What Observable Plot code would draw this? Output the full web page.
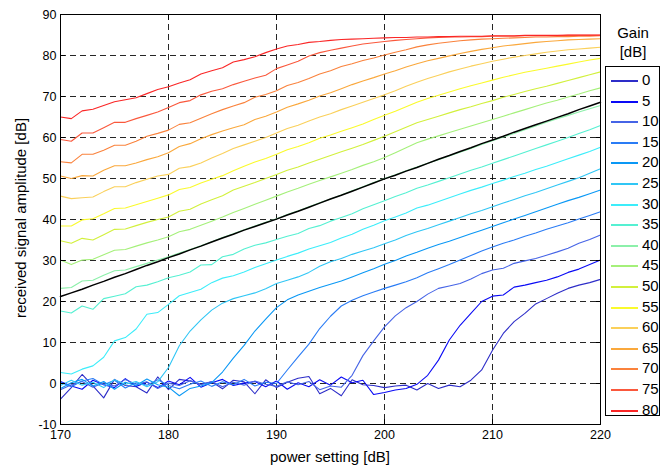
<!DOCTYPE html>
<html><head><meta charset="utf-8">
<script src="https://cdn.jsdelivr.net/npm/d3@7"></script>
<script src="https://cdn.jsdelivr.net/npm/@observablehq/plot@0.6"></script>
<style>
body{margin:0;background:#fff;font-family:"Liberation Sans",Arial,sans-serif;color:#000;}
#wrap{position:relative;width:662px;height:468px;overflow:hidden;}
#wrap > svg{position:absolute;left:0;top:0;}
.lab{position:absolute;font-size:15px;white-space:nowrap;}
#ltitle{position:absolute;left:605px;top:23px;width:56px;text-align:center;font-size:15px;line-height:19px;}
#lbox{position:absolute;left:605px;top:66px;width:55px;height:350px;border:1px solid #000;background:#fff;box-sizing:border-box;z-index:2;}
.ent{position:absolute;left:0;height:20px;width:53px;}
.ent .sw{position:absolute;left:5px;top:10px;width:27px;height:2px;}
.ent .tx{position:absolute;left:36px;top:1px;font-size:15px;line-height:18px;}
</style></head><body>
<div id="wrap">
  <div class="lab" style="left:20px;top:218px;transform:translate(-50%,-50%) rotate(-90deg);">received signal amplitude [dB]</div>
  <div class="lab" style="left:330px;top:456px;transform:translate(-50%,-50%);">power setting [dB]</div>
  <div id="ltitle">Gain<br>[dB]</div>
  <div id="lbox"></div>
</div>
<script>
const power = [170,171,172,173,174,175,176,177,178,179,
  180,181,182,183,184,185,186,187,188,189,
  190,191,192,193,194,195,196,197,198,199,
  200,201,202,203,204,205,206,207,208,209,
  210,211,212,213,214,215,216,217,218,219,220];
const gains = [0,5,10,15,20,25,30,35,40,45,50,55,60,65,70,75,80];
const gainColors = ["#2d2dc8","#0a0af5","#4664e6","#2a7cf5","#0a98f5","#30c6f5","#3cedfa","#55f0d2","#8cf0aa","#a5f07a","#d2f03c","#fafa2c","#fad05a","#faa83c","#fa823c","#fa583c","#fa2626"];
const xTicks = [170,180,190,200,210,220];
const yTicks = [-10,0,10,20,30,40,50,60,70,80,90];

const g0 = [-3.8,-1.0,2.2,-0.6,-3.5,1.0,-0.5,-0.8,-2.3,1.6,
  -1.5,1.0,0.6,-0.2,0.4,-1.3,0.8,0.4,-2.5,0.9,
  -1.0,0.3,1.3,1.7,-2.5,-1.2,-3.0,0.9,-0.3,-0.5,
  -1.0,-0.6,-0.4,-1.6,0.0,-1.2,-0.4,-0.8,0.8,3.3,
  8.1,12.2,15.1,17.1,19.4,20.7,22.0,23.2,24.0,24.6,25.4];
const g5 = [0.5,-0.6,-1.4,0.8,-0.3,-1.0,1.2,-0.7,0.3,-1.0,
  0.6,-0.3,1.5,-0.9,0.2,1.0,-0.5,0.1,0.5,-0.8,
  0.6,-1.4,0.2,-0.8,0.9,-0.4,1.6,0.2,0.8,-2.7,
  -2.2,-1.6,-1.2,-0.2,2.0,5.7,10.6,14.2,17.1,20.0,
  21.3,21.6,23.5,24.0,24.6,25.2,26.0,27.1,27.9,29.0,30.1];
const g10 = [-1.5,-0.3,0.5,-0.9,0.2,-0.6,1.0,-0.2,0.4,-1.2,
  0.1,-0.5,0.7,-0.3,0.5,-0.8,0.3,-0.4,0.6,-0.2,
  -0.7,0.4,-0.3,0.5,-1.5,-0.6,-0.9,2.0,6.8,10.4,
  13.8,16.5,18.5,20.0,21.8,23.2,23.8,24.4,25.5,26.8,
  27.7,28.1,29.3,29.9,30.5,31.3,32.1,33.0,34.2,35.1,36.2];
const g15 = [0.3,-0.8,0.6,1.2,-0.3,0.8,-1.1,0.2,-0.4,0.9,
  -0.5,-1.3,-0.2,0.6,-0.7,0.4,-0.3,1.0,-0.6,0.3,
  0.0,3.3,6.5,9.6,13.4,16.4,18.9,20.3,21.4,22.3,
  23.2,24.0,24.8,25.8,27.0,28.0,29.0,30.1,31.2,32.3,
  33.3,34.2,35.0,35.9,36.7,37.6,38.4,39.2,40.1,41.0,41.9];
const g20 = [-1.2,0.2,1.0,-0.6,0.5,-1.4,0.3,-0.5,1.1,-0.3,
  -0.9,-3.0,-1.2,-0.6,0.2,2.8,6.2,9.3,12.8,15.7,
  18.5,20.4,21.6,22.5,23.4,24.2,25.0,26.0,27.0,28.0,
  29.1,30.0,31.1,32.0,33.0,33.9,34.7,35.6,36.5,37.4,
  38.3,39.2,40.1,41.0,41.9,42.8,43.7,44.6,45.4,46.3,47.2];
const g25 = [-0.5,0.8,-0.4,0.3,-1.0,0.9,-0.2,0.5,-0.8,0.4,
  3.9,9.2,12.8,15.5,17.9,19.6,20.7,21.4,22.1,23.1,
  24.4,25.2,26.0,27.1,28.6,29.7,30.5,31.5,32.3,33.1,
  34.1,35.0,36.1,37.0,37.8,38.7,39.6,40.5,41.4,42.2,
  43.1,44.0,44.9,45.8,46.6,47.5,48.4,49.3,50.2,51.3,52.4];
const g30 = [2.7,2.3,3.5,4.3,6.4,10.4,11.2,13.3,16.9,17.3,
  19.3,21.4,22.2,23.0,24.6,25.7,26.3,27.2,28.3,29.2,
  30.1,31.0,31.8,32.8,33.6,34.4,35.5,36.4,37.6,38.6,
  39.7,40.6,41.6,42.8,43.5,44.4,45.3,46.2,47.1,47.9,
  48.8,49.6,50.5,51.3,52.2,53.0,53.9,54.8,55.7,56.6,57.6];
const g35 = [17.7,17.2,18.9,18.1,20.7,21.3,21.9,23.6,24.0,24.8,
  25.8,26.4,27.2,28.9,29.0,30.9,31.5,32.8,33.7,34.3,
  35.1,35.9,36.6,37.8,38.5,39.6,40.5,41.4,42.6,43.6,
  44.6,45.6,46.5,47.6,48.4,49.3,50.2,51.1,52.0,52.8,
  53.7,54.6,55.5,56.4,57.3,58.2,59.1,60.0,61.0,61.9,62.9];
const g40 = [23.2,23.4,25.0,25.2,26.4,27.5,27.7,28.5,29.3,30.1,
  30.9,31.8,32.7,33.6,34.6,35.6,36.5,37.5,38.4,39.3,
  40.2,41.2,42.1,43.1,44.1,45.0,46.0,47.0,48.0,49.0,
  50.0,50.9,51.9,52.8,53.7,54.6,55.5,56.4,57.3,58.3,
  59.2,60.1,61.0,61.9,62.8,63.7,64.6,65.4,66.2,67.0,67.8];
const g45 = [30.1,29.0,30.1,30.3,31.4,32.5,32.7,33.5,34.3,35.0,
  35.8,37.0,37.6,38.6,39.6,40.6,41.7,42.7,43.7,44.7,
  45.7,46.7,47.6,48.6,49.5,50.4,51.3,52.2,53.2,54.1,
  55.1,56.3,57.5,58.7,59.6,60.4,61.2,62.0,62.8,63.6,
  64.4,65.2,66.0,66.8,67.6,68.4,69.1,69.9,70.6,71.4,72.1];
const g50 = [34.8,34.2,35.4,35.0,36.3,37.6,37.7,38.5,39.3,40.0,
  40.6,42.0,42.5,43.8,44.8,45.8,47.2,48.1,49.0,50.0,
  51.0,52.0,52.8,53.8,54.7,55.6,56.5,57.4,58.3,59.3,
  60.3,61.4,62.5,63.6,64.4,65.2,66.0,66.8,67.5,68.3,
  69.0,69.8,70.5,71.2,71.9,72.5,73.2,73.9,74.6,75.3,76.0];
const g55 = [38.4,38.4,39.9,40.2,41.4,42.7,42.8,43.6,44.4,45.2,
  46.0,47.3,47.8,48.9,49.8,50.7,51.9,53.0,54.0,54.9,
  55.9,57.0,57.8,58.7,59.8,60.6,61.5,62.4,63.3,64.4,
  65.4,66.4,67.5,68.6,69.5,70.3,71.1,71.9,72.6,73.3,
  74.0,74.7,75.3,75.9,76.4,76.9,77.4,77.9,78.4,78.9,79.3];
const g60 = [45.7,45.1,45.3,45.5,46.8,48.0,48.0,49.0,49.8,50.6,
  51.0,52.5,52.9,53.8,55.0,56.1,57.3,58.2,59.1,60.0,
  61.1,62.2,63.0,64.0,65.0,65.8,66.8,67.7,68.6,69.5,
  70.4,71.4,72.5,73.5,74.4,75.2,76.0,76.7,77.4,78.0,
  78.6,79.1,79.6,80.0,80.4,80.8,81.1,81.4,81.6,81.8,82.0];
const g65 = [50.6,50.0,50.7,50.6,52.0,53.1,53.1,53.8,54.6,55.3,
  56.3,57.8,58.5,59.7,60.7,61.6,62.4,63.1,64.4,65.2,
  66.2,67.4,68.2,69.1,70.1,70.9,71.9,72.9,73.8,74.6,
  75.5,76.3,77.2,78.0,78.7,79.3,79.9,80.5,81.0,81.5,
  81.9,82.3,82.6,82.9,83.2,83.4,83.6,83.8,83.9,84.0,84.1];
const g70 = [54.1,53.8,55.9,55.9,56.9,58.1,58.1,59.1,60.3,61.0,
  61.8,63.2,63.6,64.7,65.8,66.8,67.7,68.5,69.8,70.5,
  71.4,72.7,73.4,74.4,75.5,76.3,77.3,78.0,78.8,79.4,
  80.1,80.8,81.4,82.1,82.6,83.0,83.3,83.6,83.8,84.0,
  84.1,84.2,84.3,84.4,84.5,84.5,84.6,84.6,84.7,84.7,84.8];
const g75 = [59.5,59.1,61.1,61.1,62.4,63.7,63.7,64.6,65.4,66.2,
  67.3,68.5,69.0,70.4,71.3,71.9,72.9,73.7,74.5,75.2,
  76.8,77.7,78.6,79.9,80.7,81.3,81.8,82.3,82.8,83.1,
  83.4,83.7,83.9,84.1,84.3,84.4,84.5,84.5,84.6,84.6,
  84.7,84.7,84.7,84.8,84.8,84.8,84.8,84.9,84.9,84.9,84.9];
const g80 = [65.0,64.6,66.5,66.9,67.8,68.7,69.2,69.7,70.7,71.7,
  72.4,73.3,74.1,75.5,76.3,77.0,78.4,79.0,79.7,80.7,
  81.6,82.3,82.7,83.2,83.4,83.7,83.9,84.0,84.1,84.2,
  84.3,84.4,84.4,84.5,84.5,84.6,84.6,84.7,84.7,84.7,
  84.8,84.8,84.8,84.9,84.9,84.9,84.9,85.0,85.0,85.0,85.0];
const reference = [21.2,22.1,23.0,24.0,24.9,25.9,26.8,27.8,28.8,29.7,
  30.7,31.6,32.6,33.5,34.5,35.5,36.4,37.4,38.3,39.2,
  40.1,41.1,42.0,43.0,44.0,45.0,45.9,46.9,47.9,48.9,
  49.9,50.8,51.8,52.7,53.7,54.7,55.6,56.6,57.5,58.5,
  59.4,60.3,61.3,62.2,63.1,64.0,64.9,65.8,66.8,67.7,68.6];

const series = [g0,g5,g10,g15,g20,g25,g30,g35,g40,g45,g50,g55,g60,g65,g70,g75,g80];
const rows = gains.flatMap((g, i) => series[i].map((v, j) => ({power: power[j], amp: v, gain: g})));
const refRows = reference.map((v, j) => ({power: power[j], amp: v}));

const fmt = d => String(d);
const chart = Plot.plot({
  width: 662, height: 468,
  marginLeft: 60, marginRight: 62, marginTop: 14, marginBottom: 44,
  style: {fontFamily: '"Liberation Sans", Arial, sans-serif', fontSize: "12.5px", color: "#000", background: "transparent", overflow: "visible"},
  x: {domain: [170, 220]},
  y: {domain: [-10, 90]},
  color: {type: "ordinal", domain: gains, range: gainColors},
  marks: [
    Plot.gridX(xTicks, {stroke: "#000", strokeOpacity: 0.85, strokeDasharray: "6,4"}),
    Plot.gridY(yTicks, {stroke: "#000", strokeOpacity: 0.85, strokeDasharray: "6,4"}),
    Plot.line(rows, {x: "power", y: "amp", z: "gain", stroke: "gain", strokeWidth: 1.1}),
    Plot.line(refRows, {x: "power", y: "amp", stroke: "#000", strokeWidth: 1.5}),
    Plot.frame({stroke: "#000", strokeWidth: 1}),
    Plot.axisX(xTicks, {anchor: "bottom", tickSize: -5, tickPadding: 11, tickFormat: fmt, label: null}),
    Plot.axisX(xTicks, {anchor: "top", tickSize: -5, tickFormat: () => "", label: null}),
    Plot.axisY(yTicks, {anchor: "left", tickSize: -5, tickPadding: 9, tickFormat: fmt, label: null}),
    Plot.axisY(yTicks, {anchor: "right", tickSize: -5, tickFormat: () => "", label: null})
  ]
});
const wrap = document.getElementById("wrap");
wrap.insertBefore(chart, wrap.firstChild);

const box = document.getElementById("lbox");
gains.forEach((g, i) => {
  const e = document.createElement("div");
  e.className = "ent";
  e.style.top = (3 + i * 20.6) + "px";
  const sw = document.createElement("div");
  sw.className = "sw";
  sw.style.backgroundColor = gainColors[i];
  const tx = document.createElement("div");
  tx.className = "tx";
  tx.textContent = String(g);
  e.appendChild(sw); e.appendChild(tx);
  box.appendChild(e);
});
</script>
</body></html>
